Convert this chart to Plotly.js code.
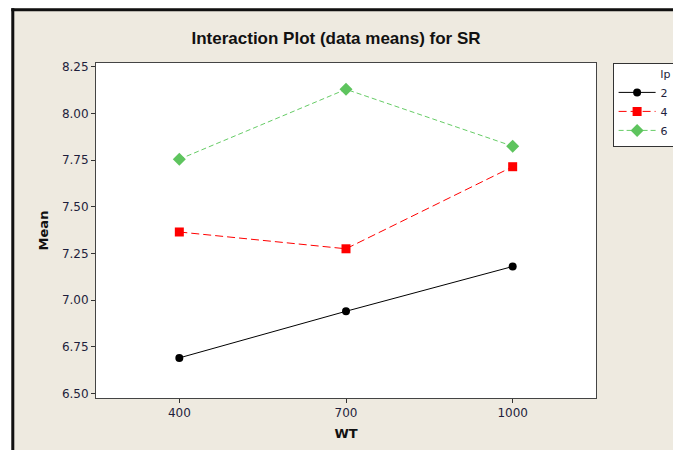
<!DOCTYPE html>
<html>
<head>
<meta charset="utf-8">
<script src="https://cdn.plot.ly/plotly-3.0.1.min.js"></script>
<style>html,body{margin:0;padding:0;background:#fff;}#chart{width:673px;height:450px;}</style>
</head>
<body>
<div id="chart"></div>
<script>
// Data
var wtLevels = [400, 700, 1000];
var ipLabels = ["2", "4", "6"];
var meanIp2 = [6.69, 6.94, 7.18];
var meanIp4 = [7.365, 7.275, 7.715];
var meanIp6 = [7.755, 8.13, 7.825];
var yTickVals = [6.50, 6.75, 7.00, 7.25, 7.50, 7.75, 8.00, 8.25];

var tickFont = {family: "DejaVu Sans, Verdana, sans-serif", size: 12, color: "#1e1e3c"};

var traces = [
  {x: wtLevels, y: meanIp2, name: ipLabels[0], type: "scatter", mode: "lines+markers",
   line: {color: "#000000", width: 1, dash: "solid"},
   marker: {symbol: "circle", size: 8, color: "#000000"}},
  {x: wtLevels, y: meanIp4, name: ipLabels[1], type: "scatter", mode: "lines+markers",
   line: {color: "#ff0000", width: 1, dash: "8px,4px"},
   marker: {symbol: "square", size: 9, color: "#ff0000"}},
  {x: wtLevels, y: meanIp6, name: ipLabels[2], type: "scatter", mode: "lines+markers",
   line: {color: "#66cc66", width: 1, dash: "5px,3px"},
   marker: {symbol: "diamond", size: 10, color: "#5ec45e"}}
];

function px2x(p){ return (p - 95.7) / 500; }
function py2y(p){ return (398 - p) / 335.3; }

var layout = {
  width: 673, height: 450,
  paper_bgcolor: "#eeeae0",
  plot_bgcolor: "#ffffff",
  margin: {l: 95.7, r: 77.3, t: 62.7, b: 52, autoexpand: false},
  showlegend: true,
  title: {
    text: "<b>Interaction Plot (data means) for SR</b>",
    font: {family: "Liberation Sans, Arial, sans-serif", size: 17, color: "#111111"},
    x: 336/673, xref: "container", xanchor: "center",
    y: 1 - 38/450, yanchor: "middle"
  },
  xaxis: {
    range: [250, 1150],
    tickvals: wtLevels,
    ticktext: wtLevels.map(String),
    ticks: "outside", ticklen: 4, tickcolor: "#333333", tickwidth: 1,
    showline: true, linecolor: "#444444", linewidth: 1, mirror: true,
    showgrid: false, zeroline: false,
    tickfont: tickFont,
    title: {text: "<b>WT</b>", font: {family: "DejaVu Sans, Verdana, sans-serif", size: 13, color: "#111111"}, standoff: 9}
  },
  yaxis: {
    range: [6.475, 8.271],
    tickvals: yTickVals,
    tickformat: ".2f",
    ticks: "outside", ticklen: 4, tickcolor: "#333333", tickwidth: 1,
    showline: true, linecolor: "#444444", linewidth: 1, mirror: true,
    showgrid: false, zeroline: false,
    tickfont: tickFont,
    title: {text: "<b>Mean</b>", font: {family: "DejaVu Sans, Verdana, sans-serif", size: 13, color: "#111111"}, standoff: 10}
  },
  legend: {
    x: px2x(612.3), y: py2y(62.3), xanchor: "left", yanchor: "top",
    bgcolor: "#ffffff", bordercolor: "#333333", borderwidth: 1,
    itemwidth: 37,
    font: {family: "DejaVu Sans, Verdana, sans-serif", size: 11, color: "#1e1e3c"},
    title: {text: "Ip", side: "top right", font: {family: "DejaVu Sans, Verdana, sans-serif", size: 11, color: "#1e1e3c"}},
    tracegroupgap: 0
  },
  shapes: [
    {type: "rect", xref: "paper", yref: "paper", x0: -0.3, x1: 1.3, y0: py2y(8), y1: 1.3, fillcolor: "#ffffff", line: {width: 0}},
    {type: "rect", xref: "paper", yref: "paper", x0: -0.3, x1: px2x(11), y0: -0.3, y1: 1.3, fillcolor: "#ffffff", line: {width: 0}},
    {type: "rect", xref: "paper", yref: "paper", x0: px2x(11), x1: 1.3, y0: py2y(11), y1: py2y(8), fillcolor: "#111111", line: {width: 0}},
    {type: "rect", xref: "paper", yref: "paper", x0: px2x(11), x1: px2x(14), y0: -0.3, y1: py2y(8), fillcolor: "#111111", line: {width: 0}}
  ]
};

Plotly.newPlot("chart", traces, layout, {staticPlot: true, displayModeBar: false});
</script>
</body>
</html>
